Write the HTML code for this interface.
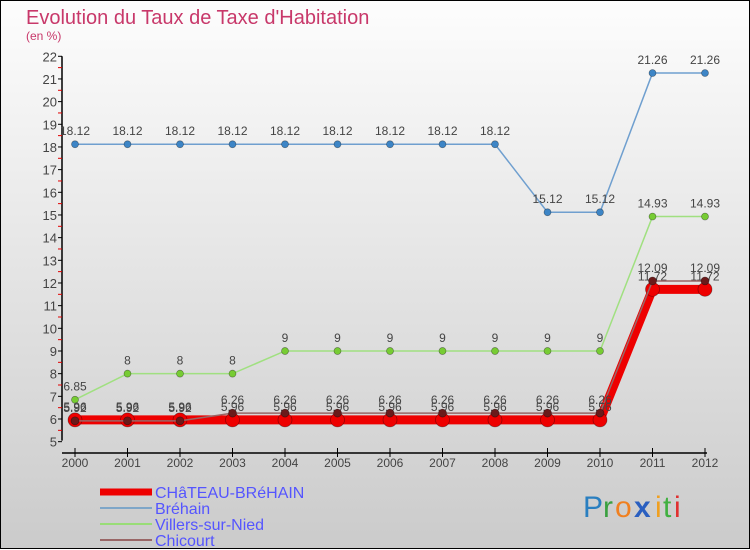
<!DOCTYPE html>
<html><head><meta charset="utf-8"><style>
html,body{margin:0;padding:0;}
body{width:750px;height:550px;overflow:hidden;font-family:"Liberation Sans",sans-serif;}
svg{display:block;}
</style></head><body>
<svg id="chart" width="750" height="550" xmlns="http://www.w3.org/2000/svg">
<defs><linearGradient id="bg" x1="0" y1="0" x2="0" y2="1"><stop offset="0" stop-color="#fdfdfd"/><stop offset="1" stop-color="#cbcbcb"/></linearGradient></defs>
<rect x="0.5" y="0.5" width="749" height="548" fill="url(#bg)" stroke="#000"/>
<text x="26" y="24" font-size="20" fill="#c8386a">Evolution du Taux de Taxe d'Habitation</text>
<text x="26" y="40" font-size="12" fill="#c8386a">(en %)</text>
<g id="plot"></g>
<g>
<line x1="100" y1="492" x2="152" y2="492" stroke="#ee0000" stroke-width="7"/>
<text x="155" y="498" font-size="16" fill="#5555ff">CHâTEAU-BRéHAIN</text>
<line x1="100" y1="508" x2="152" y2="508" stroke="#7ea6c8" stroke-width="2"/>
<text x="155" y="514" font-size="16" fill="#5555ff">Bréhain</text>
<line x1="100" y1="524" x2="152" y2="524" stroke="#99dd77" stroke-width="2"/>
<text x="155" y="530" font-size="16" fill="#5555ff">Villers-sur-Nied</text>
<line x1="100" y1="540" x2="152" y2="540" stroke="#996666" stroke-width="2"/>
<text x="155" y="546" font-size="16" fill="#5555ff">Chicourt</text>
</g>
<g font-size="30">
<text x="583" y="517" fill="#2a7fc0">P</text><text x="603" y="517" fill="#3aa040">r</text><text x="615" y="517" fill="#f08020">o</text><text x="634" y="517" fill="#2a5fc0" font-weight="bold">x</text><text x="655" y="517" fill="#f0a020">i</text><text x="663" y="517" fill="#40b040">t</text><text x="674" y="517" fill="#e03030">i</text>
</g>
</svg>
<script>
const years=[2000,2001,2002,2003,2004,2005,2006,2007,2008,2009,2010,2011,2012];
const yTicks=[5,6,7,8,9,10,11,12,13,14,15,16,17,18,19,20,21,22];
const chateau=[5.96,5.96,5.96,5.96,5.96,5.96,5.96,5.96,5.96,5.96,5.96,11.72,11.72];
const brehain=[18.12,18.12,18.12,18.12,18.12,18.12,18.12,18.12,18.12,15.12,15.12,21.26,21.26];
const villers=[6.85,8,8,8,9,9,9,9,9,9,9,14.93,14.93];
const chicourt=[5.92,5.92,5.92,6.26,6.26,6.26,6.26,6.26,6.26,6.26,6.26,12.09,12.09];
const NS="http://www.w3.org/2000/svg";
const g=document.getElementById('plot');
const xS=i=>75+i*52.5;
const yS=v=>419-(v-6)*22.67;
function el(t,a,p){const e=document.createElementNS(NS,t);for(const k in a)e.setAttribute(k,a[k]);(p||g).appendChild(e);return e;}
let ax=el('line',{x1:62,y1:yS(22),x2:62,y2:yS(5)-1,stroke:'#000','stroke-width':1.5});


let bx=el('line',{x1:62,y1:453,x2:707,y2:453,stroke:'#000','stroke-width':1.5});


yTicks.forEach(v=>{
  el('line',{x1:58,y1:yS(v),x2:62,y2:yS(v),stroke:'#000'});
  if(v<22) el('line',{x1:58,y1:yS(v+0.5),x2:62,y2:yS(v+0.5),stroke:'#e00000'});
  const t=el('text',{x:57,y:yS(v)+5,'font-size':13,fill:'#444','text-anchor':'end'});
  t.textContent=v;
  
  
});
years.forEach((y,i)=>{
  el('line',{x1:xS(i),y1:448,x2:xS(i),y2:457,stroke:'#000'});
  const t=el('text',{x:xS(i),y:467,'font-size':12,fill:'#444','text-anchor':'middle'});
  t.textContent=y;
  
  
});
function series(name,vals,color,w,r,fill){
  const pts=vals.map((v,i)=>xS(i)+','+yS(v)).join(' ');
  const l=el('polyline',{points:pts,fill:'none',stroke:color,'stroke-width':w});
  
  
  vals.forEach((v,i)=>{
    const c=el('circle',{cx:xS(i),cy:yS(v),r:r,fill:fill,stroke:'rgba(0,0,0,0.4)','stroke-width':0.7});
    
    
    const t=el('text',{x:xS(i),y:yS(v)-9,'font-size':12,fill:'#444','text-anchor':'middle'});
    t.textContent=String(v);
    
    
  });
}
series('brehain',brehain,'#6f9fcf',1.5,3.5,'#3d85c6');
series('villers-sur-nied',villers,'#a0e080',1.5,3.5,'#77cc33');
series('chateau-brehain',chateau,'#ee0000',9,7,'#ee0000');
series('chicourt',chicourt,'#996666',1.5,4,'#6a1a1a');
</script>
</body></html>
